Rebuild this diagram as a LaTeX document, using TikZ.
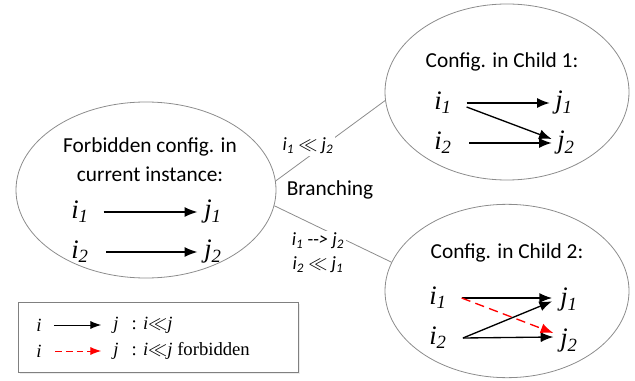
\documentclass[tikz,border=0pt]{standalone}
\usepackage{fontspec}
\setmainfont{Carlito}
\newfontfamily\tms{Liberation Serif}
\usetikzlibrary{arrows.meta,shapes.geometric,shadows}
\newcommand{\vr}[2]{{\tms\itshape #1\textsubscript{#2}}}
\newcommand{\lv}[2]{{\itshape #1\textsubscript{#2}}}
\begin{document}
\begin{tikzpicture}[x=0.75pt,y=-0.75pt,
	bubble/.style={draw=gray!90, ellipse, line width=0.6pt, inner sep=0pt},
	head/.style={font=\fontsize{16}{22}\selectfont, align=center},
	var/.style={font=\fontsize{20}{22}\selectfont, inner sep=1pt},
	lbl/.style={font=\fontsize{14}{18}\selectfont, align=center, fill=white, inner sep=1.5pt},
	lgd/.style={font=\tms\fontsize{14}{16}\selectfont, inner sep=1pt},
	link/.style={draw=gray!90, line width=0.6pt},
	arr/.style={-{Latex[length=9.5pt,width=7.5pt]}, line width=1pt},
	larr/.style={-{Latex[length=8pt,width=6pt]}, line width=0.7pt}]
		\useasboundingbox (0,0) rectangle (635,381);
		% ellipses
		\node[bubble, minimum width=195pt, minimum height=132pt] (forb) at (146,190) {};
		\node[bubble, minimum width=183pt, minimum height=132pt] (child1) at (507,92) {};
		\node[bubble, minimum width=183pt, minimum height=130pt] (child2) at (507,291) {};
		% current instance
		\node[head] (fhead) at (150,160) {Forbidden config. in\\current instance:};
		\node[var] (fi1) at (80,212) {\vr{i}{1}};
		\node[var] (fj1) at (213,212) {\vr{j}{1}};
		\node[var] (fi2) at (80,252) {\vr{i}{2}};
		\node[var] (fj2) at (213,252) {\vr{j}{2}};
		\draw[arr] ([xshift=10pt]fi1.east) -- ([xshift=-4pt]fj1.west);
		\draw[arr] ([xshift=12pt]fi2.east) -- ([xshift=-4pt]fj2.west);
		% child 1
		\node[head] (chead1) at (502,62) {Config. in Child 1:};
		\node[var] (ci1) at (443,103) {\vr{i}{1}};
		\node[var] (cj1) at (564,103) {\vr{j}{1}};
		\node[var] (ci2) at (443,143) {\vr{i}{2}};
		\node[var] (cj2) at (566,143) {\vr{j}{2}};
		\draw[arr] ([xshift=10pt]ci1.east) -- ([xshift=-3pt]cj1.west);
		\draw[arr] ([xshift=10pt,yshift=-3pt]ci1.east) -- ([xshift=-3pt,yshift=3pt]cj2.west);
		\draw[arr] ([xshift=12pt]ci2.east) -- ([xshift=-3pt]cj2.west);
		% child 2
		\node[head] (chead2) at (507,253) {Config. in Child 2:};
		\node[var] (di1) at (438,298) {\vr{i}{1}};
		\node[var] (dj1) at (569,300) {\vr{j}{1}};
		\node[var] (di2) at (438,338) {\vr{i}{2}};
		\node[var] (dj2) at (569,341) {\vr{j}{2}};
		\draw[arr] ([xshift=10pt]di1.east) -- ([xshift=-5pt,yshift=1.5pt]dj1.west);
		\draw[arr] ([xshift=11pt]di2.east) -- ([xshift=-4pt,yshift=3pt]dj2.west);
		\draw[arr] ([xshift=11pt]di2.east) -- ([xshift=-5pt,yshift=-1pt]dj1.west);
		\draw[arr, red, dashed, dash pattern=on 7pt off 4pt] ([xshift=10pt]di1.east) -- ([xshift=-4pt,yshift=6pt]dj2.west);
		% branching
		\draw[link] (forb.4) -- (child1.184);
		\draw[link] (forb.-7) -- (child2.166);
		\node[lbl] (lb1) at (308,146) {\lv{i}{1} $\ll$ \lv{j}{2}};
		\node[lbl] (lb2) at (318,253) {\lv{i}{1} -{}-{}\textit{>} \lv{j}{2}\\\lv{i}{2} $\ll$ \lv{j}{1}};
		\node[head] (brn) at (330,190) {Branching};
		% legend
		\node[draw=gray, fill=white, line width=0.6pt, minimum width=210pt, minimum height=53pt,
			drop shadow={shadow xshift=1.2pt, shadow yshift=-1.2pt, fill=black!15}] (legend) at (158,337.5) {};
		\node[lgd] (li1) at (39,325) {\itshape i};
		\node[lgd] (lj1) at (116,325) {\itshape j};
		\node[lgd, anchor=west] (lt1) at (130,325) {: \textit{i}$\ll$\textit{j}};
		\node[lgd] (li2) at (39,351) {\itshape i};
		\node[lgd] (lj2) at (116,351) {\itshape j};
		\node[lgd, anchor=west] (lt2) at (130,351) {: \textit{i}$\ll$\textit{j} forbidden};
		\draw[larr] ([xshift=8pt]li1.east) -- ([xshift=-8pt]lj1.west);
		\draw[larr, red, dashed, dash pattern=on 5pt off 3pt] ([xshift=9pt]li2.east) -- ([xshift=-8pt]lj2.west);
		\end{tikzpicture}
\end{document}
